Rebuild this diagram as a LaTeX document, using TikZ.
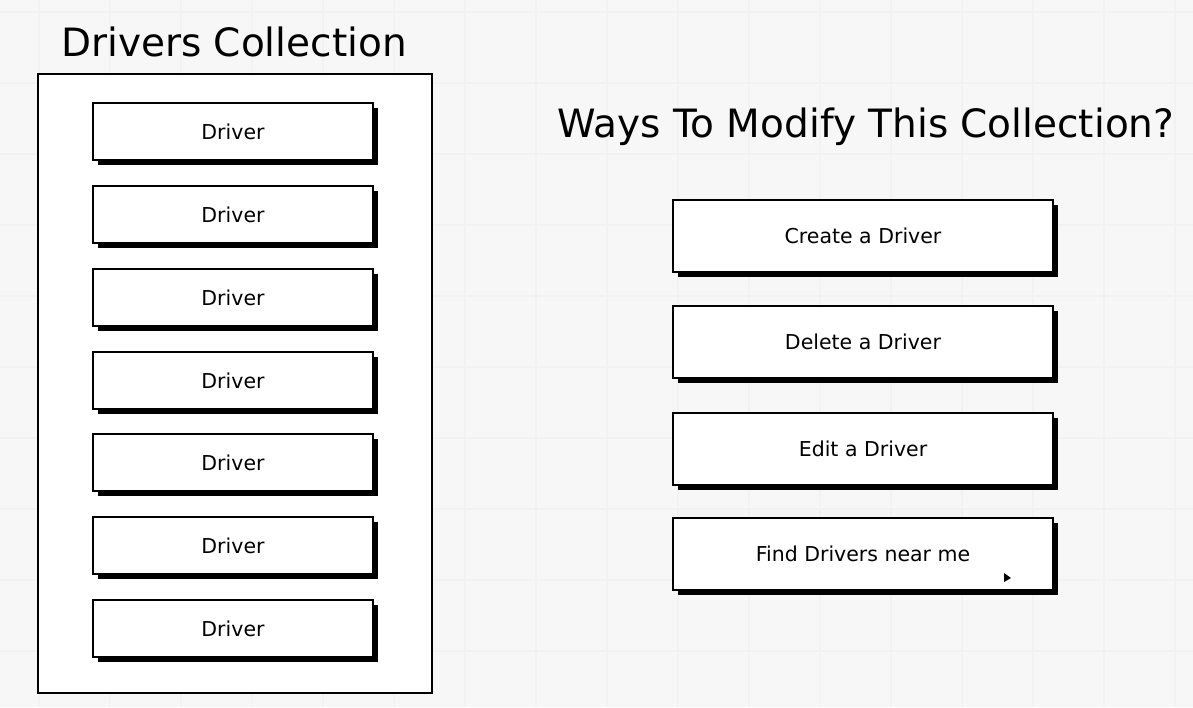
\documentclass[tikz,border=0pt]{standalone}
\usepackage{fontspec}
\setmainfont{DejaVu Sans}
\usetikzlibrary{shadows}
\tikzset{
  gridline/.style={draw=black!5, line width=2pt},
  frame/.style={draw=black, line width=2.8pt, fill=white, rectangle, inner sep=0pt},
  card/.style={draw=black, line width=2.6pt, fill=white, rectangle,
    drop shadow={shadow xshift=5pt, shadow yshift=-5pt, fill=black, opacity=1},
    font=\fontsize{20.5}{24}\selectfont},
  drivercard/.style={card, minimum width=280pt, minimum height=57pt},
  waycard/.style={card, minimum width=380pt, minimum height=72pt},
  title/.style={font=\fontsize{39}{44}\selectfont}
}
\begin{document}
\begin{tikzpicture}[x=1pt,y=-1pt]
\useasboundingbox (0,0) rectangle (1193,707);
\fill[white!97!black] (0,0) rectangle (1193,707);
% faint background grid
\foreach \gx in {39,110,181,252,323,394,465,536,607,678,749,820,891,962,1033,1104,1175}
  \draw[gridline] (\gx,0) -- (\gx,707);
\foreach \gy in {12,83,154,225,296,367,438,509,580,651}
  \draw[gridline] (0,\gy) -- (1193,\gy);

% left collection
\node[title] (ctitle) at (234,42) {Drivers Collection};
\node[frame, minimum width=394pt, minimum height=619pt] (coll) at (235,383.5) {};
\foreach \i/\cy in {1/131.5,2/214.5,3/297.5,4/380.5,5/462.5,6/545.5,7/628.5}
  \node[drivercard] (d\i) at (233,\cy) {Driver};

% right options
\node[title] (wtitle) at (866,127) {Ways To Modify This Collection?};
\node[waycard] (create) at (863,236) {Create a Driver};
\node[waycard] (delete) at (863,342) {Delete a Driver};
\node[waycard] (edit) at (863,449) {Edit a Driver};
\node[waycard] (find) at (863,554) {Find Drivers near me};
% mouse cursor
\fill[black] (1004,573) -- (1004,582) -- (1011,578) -- cycle;
\end{tikzpicture}
\end{document}
